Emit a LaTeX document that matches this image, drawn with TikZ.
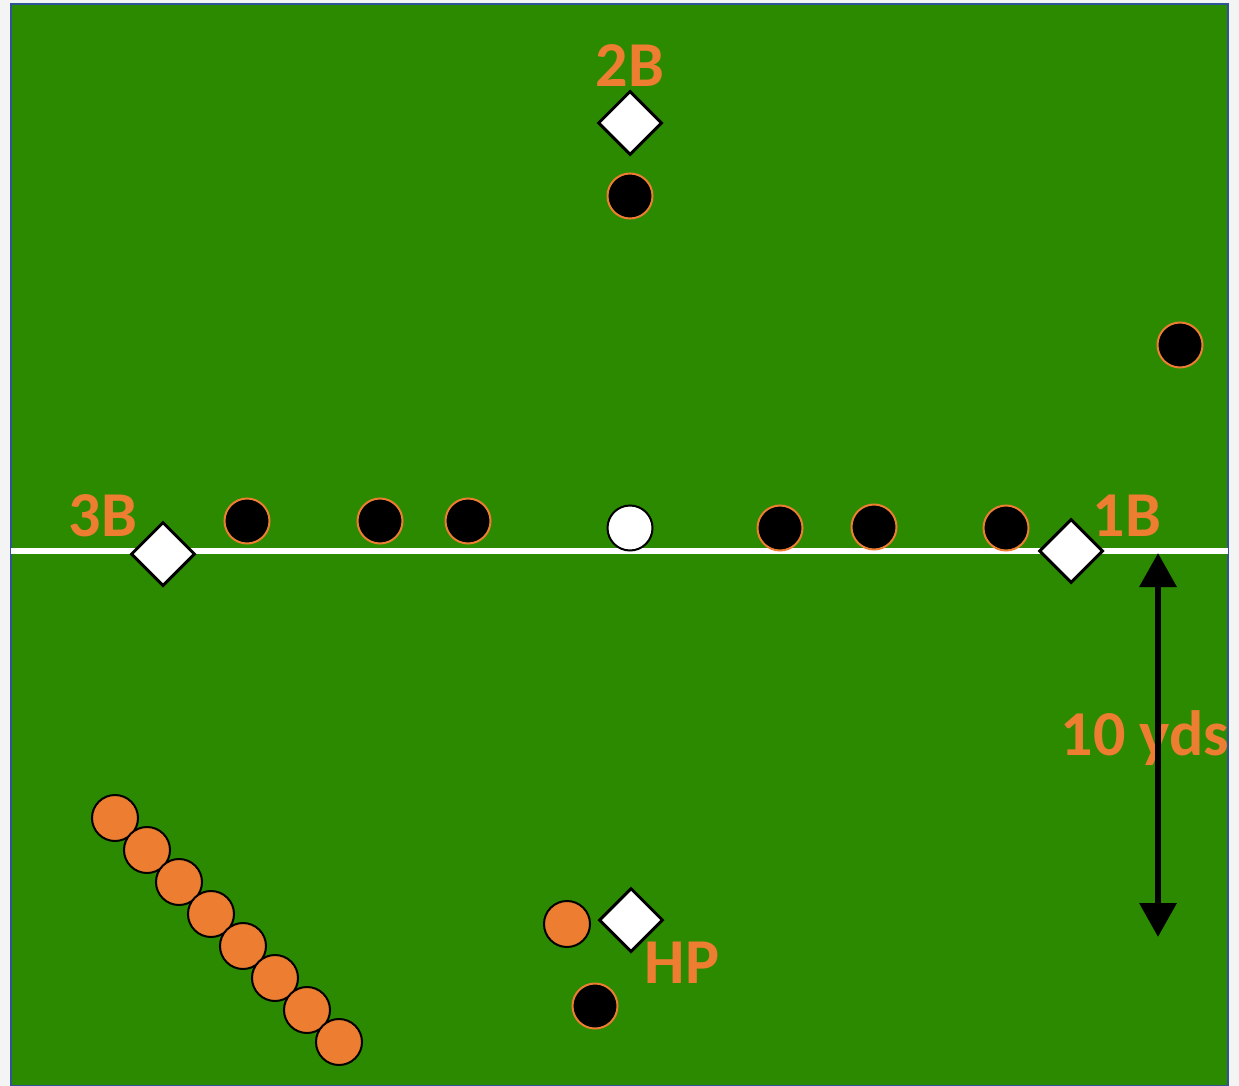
\documentclass[tikz,border=0pt]{standalone}
\usepackage{fontspec}
\setmainfont{Carlito}
\usetikzlibrary{shapes.geometric,arrows.meta}
\definecolor{field}{HTML}{2B8A00}
\definecolor{edge}{HTML}{2F5597}
\definecolor{orng}{HTML}{ED7D31}
\definecolor{paper}{HTML}{F4F4F4}
\tikzset{
  base/.style={diamond,aspect=1,draw=black,line width=3pt,fill=white,minimum size=64pt,inner sep=0pt},
  fielder/.style={circle,fill=black,draw=orng,line width=2pt,minimum size=45pt,inner sep=0pt},
  runner/.style={circle,fill=orng,draw=black,line width=2pt,minimum size=46pt,inner sep=0pt},
  ball/.style={circle,fill=white,draw=black,line width=2pt,minimum size=45pt,inner sep=0pt},
  lbl/.style={text=orng,font=\fontsize{64}{64}\selectfont\bfseries,inner sep=0pt}
}
\begin{document}
\begin{tikzpicture}[x=1pt,y=-1pt]
\useasboundingbox (0,0) rectangle (1239,1086);
\fill[paper] (0,0) rectangle (1239,1086);
\draw[fill=field,draw=edge,line width=2pt] (11,4) rectangle (1228,1086);
% base line
\coordinate (lineL) at (11,551);
\coordinate (lineR) at (1228,551);
\draw[white,line width=6pt] (lineL) -- (lineR);
% labels
\node[lbl] (t2b) at (630,66) {2B};
\node[lbl] (t3b) at (103,516) {3B};
\node[lbl] (t1b) at (1127,516) {1B};
\node[lbl] (thp) at (682,963) {HP};
\node[lbl] (tyds) at (1145,738) {10 yds};
% bases
\node[base] (b2) at (630,123) {};
\node[base] (b3) at (163,554) {};
\node[base] (b1) at (1071,551) {};
\node[base] (hp) at (631,920) {};
% fielders
\node[fielder] (f2) at (630,196) {};
\node[fielder] (rf) at (1180,345) {};
\node[fielder] (l1) at (247,521) {};
\node[fielder] (l2) at (380,521) {};
\node[fielder] (l3) at (468,521) {};
\node[ball] (w) at (630,528) {};
\node[fielder] (l4) at (780,528) {};
\node[fielder] (l5) at (874,527) {};
\node[fielder] (l6) at (1006,528) {};
\node[fielder] (c) at (595,1006) {};
% runners
\node[runner] (bat) at (567,924) {};
\foreach \i in {0,...,7} {
  \node[runner] (r\i) at ({115+32*\i},{818+32*\i}) {};
}
% arrow
\coordinate (atop) at (1158,553);
\coordinate (abot) at (1158,937);
\draw[line width=6.5pt,{Triangle[width=36pt,length=34pt]}-{Triangle[width=36pt,length=34pt]}] (atop) -- (abot);
\end{tikzpicture}
\end{document}
